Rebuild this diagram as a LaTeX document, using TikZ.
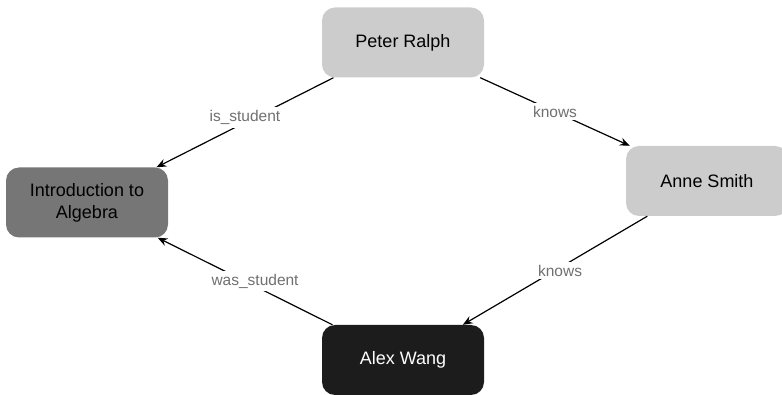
\documentclass[tikz,border=0pt]{standalone}
\usepackage{fontspec}
\setmainfont{Liberation Sans}
\usetikzlibrary{arrows.meta}
\definecolor{lightbox}{HTML}{CCCCCC}
\definecolor{midbox}{HTML}{767676}
\definecolor{darkbox}{HTML}{1C1C1C}
\definecolor{labelgray}{HTML}{707070}

\begin{document}
\begin{tikzpicture}[x=1pt,y=-1pt,
  person/.style={rectangle, rounded corners=13pt, minimum width=162pt,
    minimum height=70pt, inner sep=0pt, align=center,
    font=\fontsize{18}{22}\selectfont},
  rel/.style={-{Stealth[length=10pt,width=8pt,inset=3.5pt]}, line width=1.2pt},
  rellabel/.style={fill=white, text=labelgray, inner sep=3pt,
    font=\fontsize{15.5}{18}\selectfont}]
\useasboundingbox (0,0) rectangle (782,395);
% nodes:
\node[person, fill=lightbox] (peter) at (403,42.5) {Peter Ralph};
\node[person, fill=lightbox] (anne) at (707,181) {Anne Smith};
\node[person, fill=midbox] (algebra) at (87,202.5) {Introduction to\\Algebra};
\node[person, fill=darkbox, text=white] (alex) at (403,360) {Alex Wang};
% edges:
\draw[rel] (peter) -- node[rellabel, yshift=5pt] (isstudent) {is\_student} (algebra);
\draw[rel] (peter) -- node[rellabel] (knowsanne) {knows} (anne);
\draw[rel] (anne) -- node[rellabel, xshift=5pt] (knowsalex) {knows} (alex);
\draw[rel] (alex) -- node[rellabel, xshift=10pt] (wasstudent) {was\_student} (algebra);
\end{tikzpicture}
\end{document}
